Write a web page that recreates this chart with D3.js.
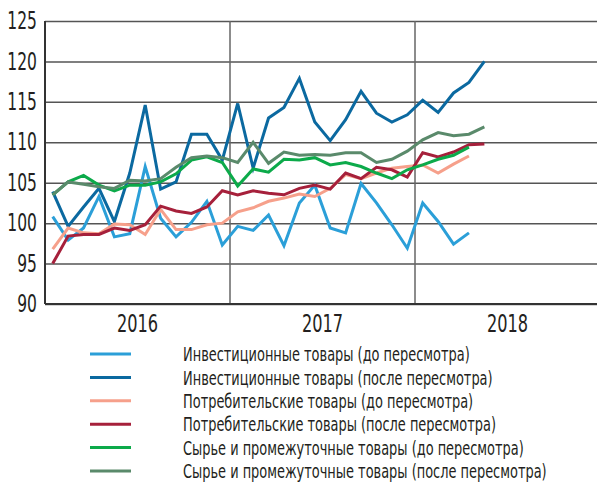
<!DOCTYPE html>
<html>
<head>
<meta charset="utf-8">
<script src="https://cdn.jsdelivr.net/npm/d3@7"></script>
<style>
	html, body { margin: 0; padding: 0; background: #fff; }
	#canvas { width: 597px; height: 485px; }
	text { font-family: 'Liberation Sans Narrow', 'DejaVu Sans Condensed', sans-serif; fill: #231f20; }
</style>
</head>
<body>
<div id="canvas"></div>
<script>
const years = ['2016', '2017', '2018'];
const yTicks = [90, 95, 100, 105, 110, 115, 120, 125];

const investBefore = [100.8, 97.9, 99.4, 103.3, 98.3, 98.7, 107.0, 100.6, 98.3, 100.1, 102.7, 97.3, 99.6, 99.1, 101.0, 97.2, 102.5, 104.7, 99.4, 98.8, 104.9, 102.5, 99.8, 96.9, 102.5, 100.2, 97.4, 98.8];
const investAfter = [103.9, 99.6, 102.0, 104.3, 100.2, 106.2, 114.6, 104.2, 105.1, 111.0, 111.0, 107.8, 114.8, 106.8, 113.0, 114.3, 117.9, 112.5, 110.2, 112.8, 116.3, 113.6, 112.5, 113.4, 115.2, 113.7, 116.1, 117.4, 120.0];
const consumerBefore = [96.8, 99.4, 98.8, 98.7, 99.9, 99.8, 98.6, 101.7, 99.2, 99.2, 99.8, 100.0, 101.4, 101.9, 102.7, 103.1, 103.6, 103.3, 104.3, 106.0, 105.5, 106.2, 106.8, 107.0, 107.2, 106.2, 107.3, 108.3];
const consumerAfter = [95.0, 98.4, 98.6, 98.6, 99.4, 99.1, 99.8, 102.1, 101.5, 101.2, 102.0, 104.0, 103.5, 104.0, 103.7, 103.5, 104.3, 104.7, 104.2, 106.2, 105.5, 106.9, 106.6, 105.7, 108.7, 108.2, 108.8, 109.7, 109.8];
const rawBefore = [103.5, 105.1, 105.9, 104.7, 104.0, 104.7, 104.7, 105.1, 106.1, 107.8, 108.2, 107.5, 104.6, 106.7, 106.3, 107.9, 107.8, 108.1, 107.2, 107.5, 107.0, 106.2, 105.5, 106.6, 107.2, 107.9, 108.4, 109.4];
const rawAfter = [103.5, 105.1, 104.8, 104.5, 104.3, 105.3, 105.2, 105.5, 106.9, 108.1, 108.3, 108.1, 107.5, 110.0, 107.4, 108.8, 108.4, 108.5, 108.4, 108.7, 108.7, 107.5, 107.9, 108.9, 110.3, 111.2, 110.8, 111.0, 111.9];

const seriesNames = [
	'Инвестиционные товары (до пересмотра)',
	'Инвестиционные товары (после пересмотра)',
	'Потребительские товары (до пересмотра)',
	'Потребительские товары (после пересмотра)',
	'Сырье и промежуточные товары (до пересмотра)',
	'Сырье и промежуточные товары (после пересмотра)',
];
const seriesColors = ['#2b9fd8', '#0b69a0', '#f6a08b', '#a6203b', '#0caa4a', '#5a8a6b'];
const seriesValues = [investBefore, investAfter, consumerBefore, consumerAfter, rawBefore, rawAfter];

const chart = {
	dims: { width: 597, height: 485 },
	margins: { top: 21, right: -3, bottom: 181, left: 45 },
};

drawChart();

function drawChart() {
	const { width, height } = chart.dims;
	const m = chart.margins;

	const months = d3.timeMonth.range(new Date(2016, 0, 1), new Date(2019, 0, 1));

	const xScale = d3
		.scaleBand()
		.domain(months.map(d => +d))
		.range([m.left, width - m.right])
		.padding(0);

	const yearScale = d3
		.scaleBand()
		.domain(years)
		.range([m.left, width - m.right]);

	const yScale = d3
		.scaleLinear()
		.domain([90, 125])
		.range([height - m.bottom, m.top]);

	const svg = d3
		.select('#canvas')
		.append('svg')
		.attr('width', width)
		.attr('height', height);

	// horizontal grid + labels
	const yAxis = svg
		.append('g')
		.attr('transform', `translate(${m.left},0)`)
		.call(
			d3
				.axisLeft(yScale)
				.tickValues(yTicks)
				.tickSize(-(width - m.left))
				.tickPadding(8)
		);
	yAxis.select('.domain').remove();
	yAxis.selectAll('.tick line').attr('stroke', '#555').attr('stroke-width', 1.5);
	yAxis.selectAll('.tick text').attr('font-size', 24).attr('fill', '#231f20');

	// year separators
	svg.append('g')
		.selectAll('line')
		.data(years.slice(1))
		.join('line')
		.attr('x1', d => yearScale(d))
		.attr('x2', d => yearScale(d))
		.attr('y1', yScale(125))
		.attr('y2', yScale(90))
		.attr('stroke', '#666')
		.attr('stroke-width', 1.5);

	// axes lines
	svg.append('line')
		.attr('x1', m.left).attr('x2', m.left)
		.attr('y1', yScale(125)).attr('y2', yScale(90))
		.attr('stroke', '#333').attr('stroke-width', 2);
	svg.append('line')
		.attr('x1', m.left).attr('x2', width)
		.attr('y1', yScale(90)).attr('y2', yScale(90))
		.attr('stroke', '#333').attr('stroke-width', 2);

	// year labels
	const xAxis = svg
		.append('g')
		.attr('transform', `translate(0,${yScale(90)})`)
		.call(d3.axisBottom(yearScale).tickSize(0).tickPadding(10));
	xAxis.select('.domain').remove();
	xAxis.selectAll('.tick text').attr('font-size', 25).attr('fill', '#231f20');

	// series
	const line = d3
		.line()
		.x((d, i) => xScale(+months[i]) + xScale.bandwidth() / 2)
		.y(d => yScale(d));

	svg.append('g')
		.selectAll('path')
		.data(seriesValues)
		.join('path')
		.attr('d', d => line(d))
		.attr('fill', 'none')
		.attr('stroke', (d, i) => seriesColors[i])
		.attr('stroke-width', 3)
		.attr('stroke-linejoin', 'miter');

	// legend
	const legend = svg
		.append('g')
		.selectAll('g')
		.data(seriesNames)
		.join('g')
		.attr('transform', (d, i) => `translate(90,${354 + i * 23.4})`);

	legend
		.append('line')
		.attr('x1', 0)
		.attr('x2', 41)
		.attr('stroke', (d, i) => seriesColors[i])
		.attr('stroke-width', 3);

	const legendText = legend
		.append('text')
		.attr('x', 93)
		.attr('dy', '0.36em')
		.attr('font-size', 20)
		.text(d => d);

	// the original uses a narrow typeface: squeeze every label horizontally by the same factor
	const narrow = 287 / legendText.node().getComputedTextLength();
	svg.selectAll('text').each(function () {
		const t = d3.select(this);
		const x = +t.attr('x') || 0;
		t.attr('x', 0).attr('transform', `translate(${x},0) scale(${narrow},1)`);
	});
}
</script>
</body>
</html>
